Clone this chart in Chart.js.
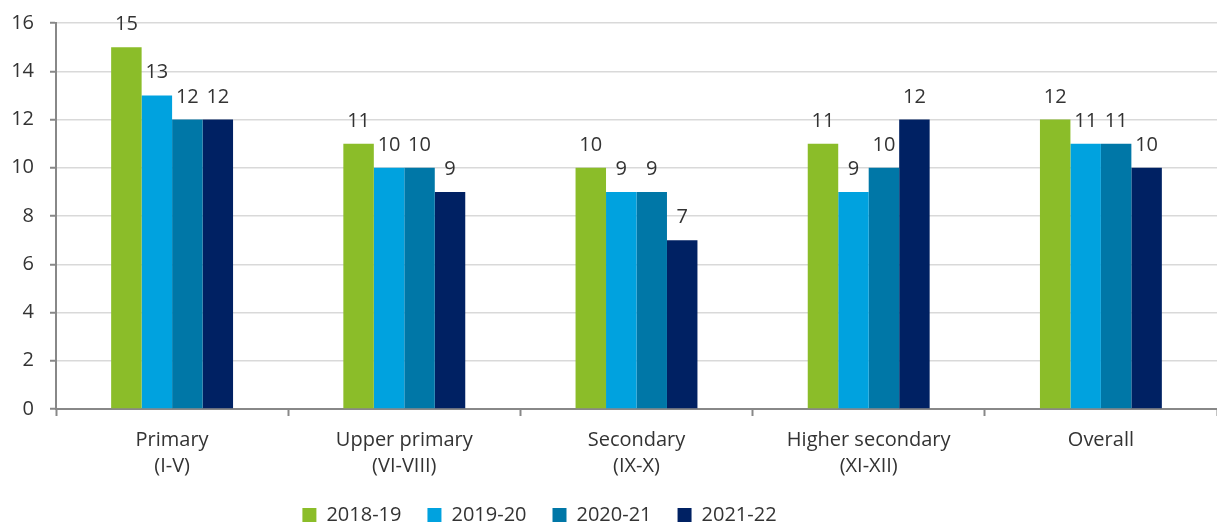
<!DOCTYPE html>
<html lang="en">
<head>
    <meta charset="UTF-8">
    <title>Pupil teacher ratio</title>
    <script src="https://cdn.jsdelivr.net/npm/chart.js@4.4.1/dist/chart.umd.min.js"></script>
    <style>
        html, body { margin: 0; padding: 0; background: #fff; }
        #wrap { width: 1217px; height: 525px; }
    </style>
</head>
<body>
<div id="wrap"><canvas id="chartCanvas"></canvas></div>

<script>
    // data
    const categories = [
        ['Primary', '(I-V)'],
        ['Upper primary', '(VI-VIII)'],
        ['Secondary', '(IX-X)'],
        ['Higher secondary', '(XI-XII)'],
        ['Overall']
    ];
    const years = ['2018-19', '2019-20', '2020-21', '2021-22'];
    const v2018 = [15, 11, 10, 11, 12];
    const v2019 = [13, 10, 9, 9, 11];
    const v2020 = [12, 10, 9, 10, 11];
    const v2021 = [12, 9, 7, 12, 10];
    const yTicks = [0, 2, 4, 6, 8, 10, 12, 14, 16];

    const colors = ['#8BBD29', '#00A2DF', '#0077A7', '#002163'];
    const textColor = '#333333';
    const fontFamily = '"Open Sans", "Noto Sans", sans-serif';
    const fontSize = 20;

    // numbers above each bar
    const barLabels = {
        id: 'barLabels',
        afterDatasetsDraw(chart) {
            const ctx = chart.ctx;
            ctx.save();
            ctx.font = fontSize + 'px ' + fontFamily;
            ctx.fillStyle = textColor;
            ctx.textAlign = 'center';
            ctx.textBaseline = 'alphabetic';
            chart.data.datasets.forEach((ds, i) => {
                chart.getDatasetMeta(i).data.forEach((bar, j) => {
                    ctx.fillText(ds.data[j], bar.x, bar.y - 17);
                });
            });
            ctx.restore();
        }
    };

    // move the legend where the original has it, let x labels use the space below
    const legendSpot = {
        id: 'legendSpot',
        afterLayout(chart) {
            const lg = chart.legend;
            if (lg) {
                const dx = -69, h = lg.bottom - lg.top;
                lg.left += dx; lg.right += dx;
                lg.top = 515 - 26 - fontSize / 2;
                lg.bottom = lg.top + h;
            }
            chart.scales.x.bottom = 525;
        }
    };

    const ctx = document.getElementById('chartCanvas').getContext('2d');
    const myChart = new Chart(ctx, {
        type: 'bar',
        data: {
            labels: categories,
            datasets: [
                { label: years[0], data: v2018, backgroundColor: colors[0] },
                { label: years[1], data: v2019, backgroundColor: colors[1] },
                { label: years[2], data: v2020, backgroundColor: colors[2] },
                { label: years[3], data: v2021, backgroundColor: colors[3] }
            ]
        },
        options: {
            responsive: true,
            maintainAspectRatio: false,
            animation: false,
            devicePixelRatio: 1,
            datasets: {
                bar: { categoryPercentage: 0.525, barPercentage: 1 }
            },
            layout: { padding: { top: 23, right: 0, left: 0, bottom: 0 } },
            plugins: {
                tooltip: { enabled: false },
                legend: {
                    position: 'bottom',
                    labels: {
                        boxWidth: 14,
                        boxHeight: 14,
                        padding: 26,
                        color: textColor,
                        font: { family: fontFamily, size: fontSize }
                    }
                }
            },
            scales: {
                x: {
                    afterFit(scale) {
                        const lh = scale.chart.legend ? scale.chart.legend.height : 0;
                        scale.height = 525 - 409 - lh;
                    },
                    border: { display: true, color: '#888', width: 2 },
                    grid: {
                        offset: true,
                        drawOnChartArea: false,
                        drawTicks: true,
                        tickLength: 7,
                        tickColor: '#888',
                        tickWidth: 2
                    },
                    ticks: {
                        color: textColor,
                        padding: 11,
                        maxRotation: 0,
                        font: { family: fontFamily, size: fontSize, lineHeight: 1.3 }
                    }
                },
                y: {
                    min: 0,
                    max: 16,
                    afterFit(scale) {
                        scale.width = 56;
                        scale.paddingTop = 0;
                        scale.paddingBottom = 0;
                    },
                    afterBuildTicks(scale) {
                        scale.ticks = yTicks.map(v => ({ value: v }));
                    },
                    border: { display: true, color: '#888', width: 2 },
                    grid: {
                        color: '#d9d9d9',
                        lineWidth: 1.5,
                        tickColor: '#888',
                        tickWidth: 2,
                        tickLength: 6
                    },
                    ticks: {
                        color: textColor,
                        padding: 16,
                        font: { family: fontFamily, size: fontSize }
                    }
                }
            }
        },
        plugins: [barLabels, legendSpot]
    });
</script>
</body>
</html>
